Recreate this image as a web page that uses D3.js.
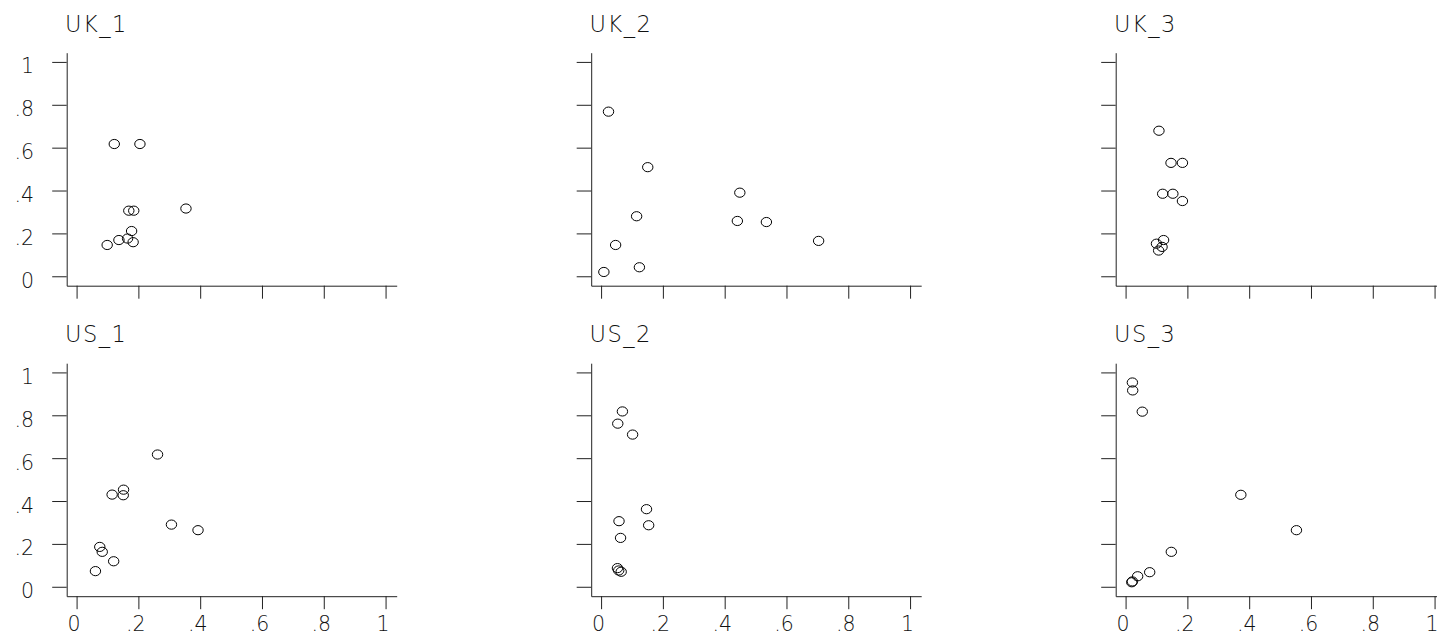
<!DOCTYPE html>
<head>
	<meta charset="utf-8">
	<title>UK / US scatter</title>
	<script src="https://cdn.jsdelivr.net/npm/d3@7"></script>
	<style>
		html, body {
			margin: 0;
			padding: 0;
			background: white;
			overflow: hidden;
		}
		text {
			font-family: 'DejaVu Sans', sans-serif;
			font-weight: 200;
			fill: #111;
		}
		.domain, .tick line {
			stroke: #222;
			stroke-width: 1px;
		}
		.pt {
			fill: none;
			stroke: black;
			stroke-width: 1px;
		}
	</style>
</head>
<body>
	<script>
		var width = 1437;
		var height = 639;

		// values
		var uk1_x = [0.122, 0.205, 0.354, 0.169, 0.185, 0.178, 0.165, 0.137, 0.183, 0.099];
		var uk1_y = [0.617, 0.617, 0.316, 0.306, 0.306, 0.211, 0.176, 0.169, 0.159, 0.146];

		var uk2_x = [0.024, 0.151, 0.449, 0.115, 0.441, 0.535, 0.704, 0.047, 0.124, 0.009];
		var uk2_y = [0.768, 0.509, 0.390, 0.280, 0.258, 0.253, 0.165, 0.146, 0.042, 0.020];

		var uk3_x = [0.108, 0.147, 0.184, 0.120, 0.153, 0.184, 0.123, 0.100, 0.118, 0.107];
		var uk3_y = [0.679, 0.529, 0.529, 0.385, 0.385, 0.351, 0.169, 0.152, 0.137, 0.120];

		var us1_x = [0.262, 0.152, 0.151, 0.115, 0.307, 0.393, 0.075, 0.083, 0.120, 0.061];
		var us1_y = [0.617, 0.453, 0.427, 0.430, 0.290, 0.264, 0.186, 0.163, 0.119, 0.073];

		var us2_x = [0.069, 0.054, 0.102, 0.147, 0.154, 0.058, 0.063, 0.053, 0.057, 0.065];
		var us2_y = [0.818, 0.761, 0.710, 0.362, 0.287, 0.306, 0.228, 0.087, 0.076, 0.070];

		var us3_x = [0.022, 0.023, 0.054, 0.373, 0.553, 0.148, 0.078, 0.039, 0.022, 0.020];
		var us3_y = [0.953, 0.916, 0.817, 0.429, 0.264, 0.163, 0.068, 0.049, 0.025, 0.021];

		var panelNames = ["UK_1", "UK_2", "UK_3", "US_1", "US_2", "US_3"];
		var panelX = [uk1_x, uk2_x, uk3_x, us1_x, us2_x, us3_x];
		var panelY = [uk1_y, uk2_y, uk3_y, us1_y, us2_y, us3_y];

		var tickValues = [0, 0.2, 0.4, 0.6, 0.8, 1];
		var tickLabels = ["0", ".2", ".4", ".6", ".8", "1"];

		var svg = d3.select("body")
			.append("svg")
			.attr("width", width)
			.attr("height", height);

		var colStep = 524.5;
		var rowStep = 310.5;

		var fmt = function(d) { return tickLabels[tickValues.indexOf(d)]; };

		panelNames.forEach(function(name, i) {
			var col = i % 3;
			var row = Math.floor(i / 3);

			var g = svg.append("g")
				.attr("transform", "translate(" + (col * colStep) + "," + (row * rowStep) + ")");

			var x = d3.scaleLinear().domain([-0.032, 1.036]).range([66.7, 396.7]);
			var y = d3.scaleLinear().domain([-0.044, 1.043]).range([285.7, 52.7]);

			// title
			g.append("text")
				.attr("x", 65)
				.attr("y", 31.5)
				.style("font-size", "22.5px")
				.style("letter-spacing", "1.5px")
				.text(name);

			// y axis
			var ya = g.append("g")
				.attr("transform", "translate(66.7,0)")
				.call(d3.axisLeft(y)
					.tickValues(tickValues)
					.tickSize(14.5)
					.tickSizeOuter(0)
					.tickFormat(col == 0 ? fmt : ""));
			ya.selectAll("text")
				.attr("x", -32.7)
				.attr("dy", null)
				.attr("y", 11)
				.style("font-size", "20.5px");

			// x axis
			var xa = g.append("g")
				.attr("transform", "translate(0,285.7)")
				.call(d3.axisBottom(x)
					.tickValues(tickValues)
					.tickSize(13)
					.tickSizeOuter(0)
					.tickFormat(row == 1 ? fmt : ""));
			xa.selectAll("text")
				.attr("x", -3)
				.attr("dy", null)
				.attr("y", 35)
				.style("font-size", "20.5px");

			ya.selectAll("text, .domain, line").attr("fill", null);
			xa.selectAll("text").attr("fill", null);

			// points
			var xs = panelX[i], ys = panelY[i];
			g.selectAll("ellipse")
				.data(d3.range(xs.length))
				.enter().append("ellipse")
					.attr("class", "pt")
					.attr("cx", function(d) { return x(xs[d]); })
					.attr("cy", function(d) { return y(ys[d]); })
					.attr("rx", 5.2)
					.attr("ry", 4.6);
		});
	</script>
</body>
